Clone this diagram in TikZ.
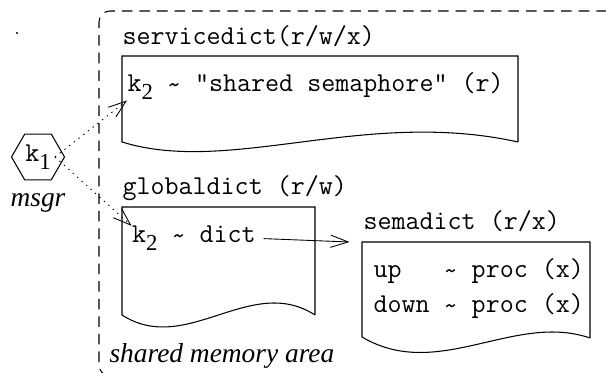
\documentclass[tikz,border=0pt]{standalone}
\usepackage{fontspec}
\setmainfont{Liberation Serif}
\usetikzlibrary{shapes.geometric,arrows.meta}
\newcommand{\lowsub}[1]{\raisebox{-4.5pt}{\fontsize{13}{13}\rmfamily #1}}
\newcommand{\tld}{\raisebox{-0.06em}{\textasciitilde}}
\tikzset{
  lbl/.style={font=\fontsize{15.5}{18}\ttfamily, inner sep=0pt},
  itlbl/.style={font=\fontsize{15.6}{18}\itshape, inner sep=0pt},
  ptr/.style={-{Straight Barb[length=10pt,width=7pt]}, line width=0.5pt},
  dotptr/.style={ptr, dash pattern=on 0.8pt off 2.6pt},
}

\begin{document}
\begin{tikzpicture}[line width=0.6pt]
\useasboundingbox (0,0) rectangle (12.12,7.46);
% shared memory area
\draw[dash pattern=on 6pt off 4pt, rounded corners=0.22cm] (2.5,-0.06) -- (1.98,-0.06) -- (1.98,7.24) -- (12.3,7.24);
\fill (0.34,6.80) circle (0.6pt);
\node[itlbl, anchor=base west] (shmlbl) at (2.18,0.20) {shared memory area};
% messenger
\node[draw, regular polygon, regular polygon sides=6, minimum size=1.06cm, inner sep=0pt, font=\fontsize{15.5}{18}\ttfamily] (k1) at (0.76,4.32) {k\lowsub{1}};
\node[itlbl] (msgr) at (0.76,3.40) {msgr};
% servicedict
\node[lbl, anchor=base west] (svctitle) at (2.44,6.56) {servicedict(r/w/x)};
\draw (10.36,4.62) -- (10.36,6.34) -- (2.44,6.34) -- (2.44,4.62) .. controls (4.6,3.95) and (7.3,5.3) .. (10.36,4.62);
\node[lbl, anchor=base west] (svckey) at (2.54,5.62) {k\lowsub{2} \tld{} "shared semaphore" (r)};
% globaldict
\node[lbl, anchor=base west] (globtitle) at (2.44,3.56) {globaldict (r/w)};
\draw (6.30,1.16) -- (6.30,3.32) -- (2.44,3.32) -- (2.44,1.16) .. controls (3.73,0.33) and (5.01,1.99) .. (6.30,1.16);
\node[lbl, anchor=base west] (globkey) at (2.63,2.60) {k\lowsub{2} \tld{} dict};
% semadict
\node[lbl, anchor=base west] (sematitle) at (7.26,2.86) {semadict (r/x)};
\draw (11.80,0.70) -- (11.80,2.62) -- (7.24,2.62) -- (7.24,0.72) .. controls (8.76,-0.18) and (10.28,1.22) .. (11.80,0.70);
\coordinate (semain) at (6.99,2.62);
\node[lbl, anchor=base west] (semaup) at (7.46,1.90) {up\ \ \ \tld{} proc (x)};
\node[lbl, anchor=base west] (semadown) at (7.46,1.20) {down \tld{} proc (x)};
% pointers
\draw[dotptr] ([xshift=0.34cm]k1.center) -- (svckey.south west);
\draw[dotptr] ([xshift=0.34cm]k1.center) -- (globkey.north west);
\draw[ptr] ([xshift=0.15cm]globkey.east) -- (semain);
\end{tikzpicture}
\end{document}
